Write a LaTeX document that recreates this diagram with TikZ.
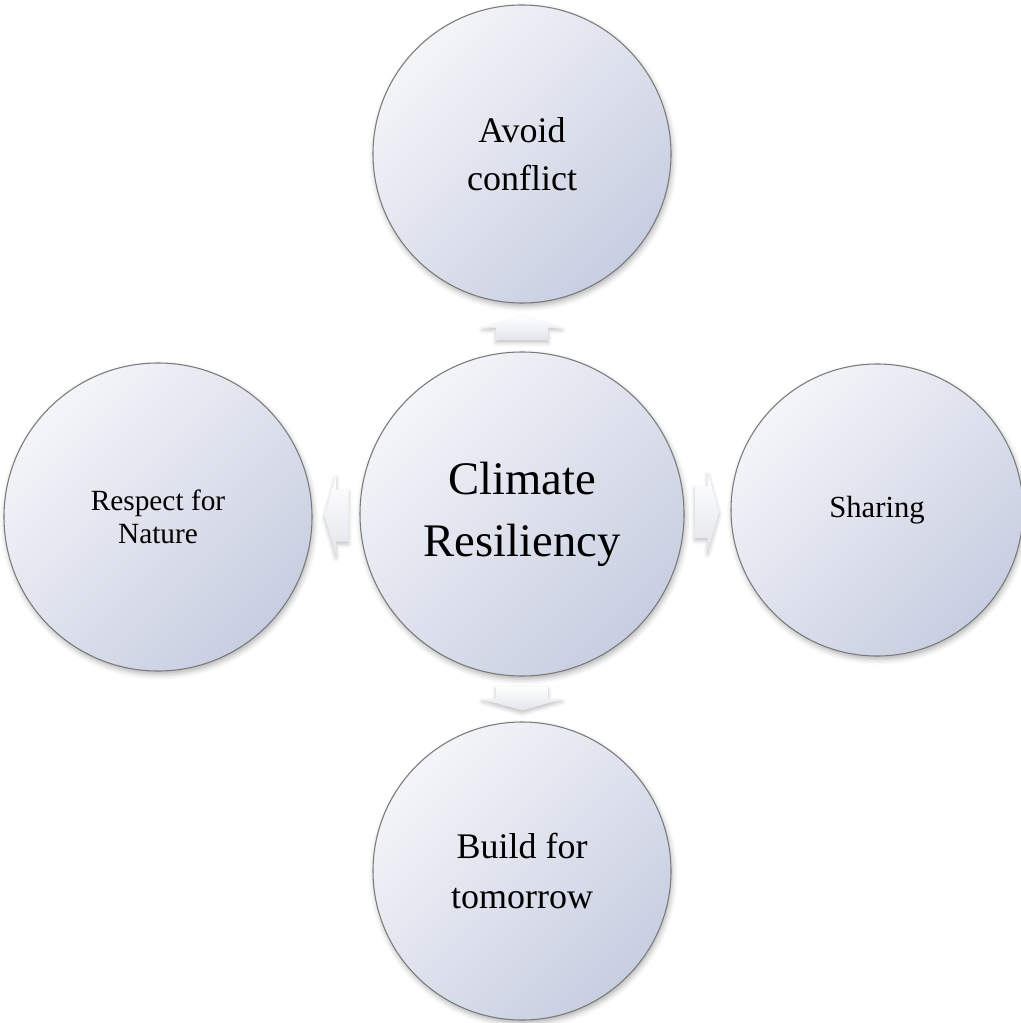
\documentclass[tikz,border=0pt]{standalone}
\usepackage{fontspec}
\setmainfont{Liberation Serif}
\usetikzlibrary{shadows.blur,calc}
\definecolor{cLight}{HTML}{F4F5F9}
\definecolor{cDark}{HTML}{C8CEE1}
\definecolor{cEdge}{HTML}{7A7A7A}
\definecolor{aLight}{HTML}{FFFFFF}
\definecolor{aDark}{HTML}{E3E5EB}
\tikzset{
  ball/.style={circle, inner sep=0pt, draw=cEdge, line width=0.8pt,
    top color=cLight, bottom color=cDark, shading angle=45,
    blur shadow={shadow xshift=1pt, shadow yshift=-2.5pt, shadow blur radius=4pt, shadow opacity=30},
    align=center, text=black},
  barrow/.style={top color=aLight, bottom color=aDark,
    blur shadow={shadow xshift=0pt, shadow yshift=-2pt, shadow blur radius=3pt, shadow opacity=25}},
}
\newcommand\blockarrowat[2]{%
  \begin{scope}[shift={(#1)}, rotate=#2]
    \path[barrow] (-12.5,-26) -- (0,-26) -- (0,-40) -- (11.5,0) -- (0,40) -- (0,26) -- (-12.5,26) -- cycle;
  \end{scope}}
\begin{document}
\begin{tikzpicture}[x=0.75pt, y=0.75pt]
  \useasboundingbox (0,0) rectangle (1020,-1023);
  \node[ball, minimum size=243pt, font=\fontsize{35}{46.5}\selectfont] (c) at (522,-514) {Climate\\Resiliency};
  \node[ball, minimum size=223.5pt, font=\fontsize{27}{36}\selectfont] (t) at (522,-154) {Avoid\\conflict};
  \node[ball, minimum size=223.5pt, font=\fontsize{27}{37.5}\selectfont] (b) at (522,-871) {Build for\\tomorrow};
  \node[ball, minimum size=231pt, font=\fontsize{22}{25}\selectfont] (l) at (158,-517) {Respect for\\Nature};
  \node[ball, minimum size=219pt, font=\fontsize{23}{27}\selectfont] (r) at (877,-510) {Sharing};
  \coordinate (mt) at ($(c.north)!0.5!(t.south)$);
  \coordinate (mb) at ($(c.south)!0.5!(b.north)$);
  \coordinate (ml) at ($(c.west)!0.5!(l.east)$);
  \coordinate (mr) at ($(c.east)!0.5!(r.west)$);
  \blockarrowat{mt}{90}
  \blockarrowat{mb}{-90}
  \blockarrowat{ml}{180}
  \blockarrowat{mr}{0}
\end{tikzpicture}
\end{document}
